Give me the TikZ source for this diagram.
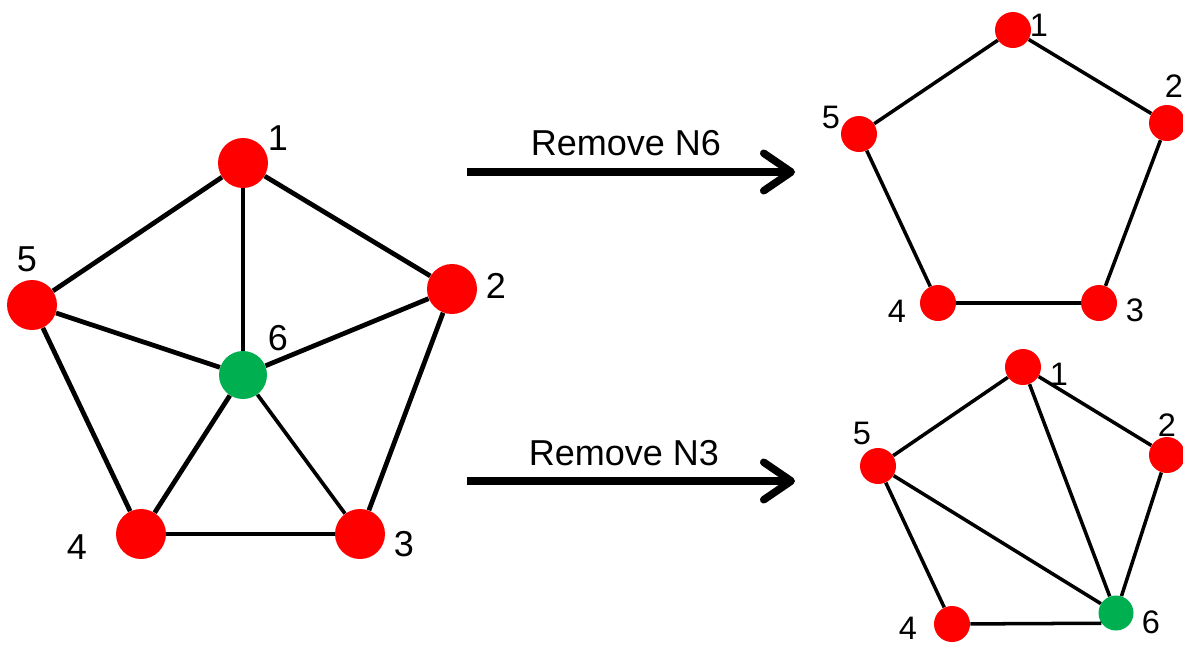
\documentclass[tikz,border=0pt]{standalone}
\usepackage{fontspec}
\setmainfont{Liberation Sans}
\usetikzlibrary{positioning,arrows.meta}

\definecolor{dotred}{RGB}{255,0,0}
\definecolor{dotgreen}{RGB}{0,176,80}

\tikzset{
  bigred/.style={circle,fill=dotred,minimum size=1cm,inner sep=0pt},
  biggreen/.style={circle,fill=dotgreen,minimum size=0.96cm,inner sep=0pt},
  smallred/.style={circle,fill=dotred,minimum size=0.72cm,inner sep=0pt},
  smallgreen/.style={circle,fill=dotgreen,minimum size=0.7cm,inner sep=0pt},
  biglbl/.style={font=\fontsize{20.5}{24}\selectfont,inner sep=0pt},
  smalllbl/.style={font=\fontsize{18.5}{22}\selectfont,inner sep=0pt},
  bigedge/.style={line width=2.7pt},
  thinedge/.style={line width=2.1pt},
  smalledge/.style={line width=2pt},
  bigarrow/.style={line width=4.3pt,-{Straight Barb[length=0.55cm,width=0.75cm,line cap=round,line join=round]}}
}

\begin{document}
\begin{tikzpicture}[x=0.02cm,y=-0.02cm]

  \useasboundingbox (0,0) rectangle (1183,647);

  % starting graph
  \node[bigred] (a1) at (243,163) {};
  \node[bigred] (a2) at (452,289) {};
  \node[bigred] (a3) at (360,534) {};
  \node[bigred] (a4) at (141,534) {};
  \node[bigred] (a5) at (32,305) {};
  \node[biggreen] (a6) at (243,375) {};

  \path[bigedge] (a1) edge (a2);
  \path[bigedge] (a1) edge (a5);
  \path[bigedge] (a1) edge (a6);
  \path[bigedge] (a2) edge (a3);
  \path[bigedge] (a2) edge (a6);
  \path[bigedge] (a3) edge (a4);
  \path[bigedge] (a4) edge (a5);
  \path[bigedge] (a5) edge (a6);
  \path[bigedge] (a6) edge (a4);
  \path[thinedge] (a6) edge (a3);

  \node[biglbl] (la1) at (278,138) {1};
  \node[biglbl] (la2) at (496,286) {2};
  \node[biglbl] (la3) at (404,544) {3};
  \node[biglbl] (la4) at (77,547) {4};
  \node[biglbl] (la5) at (27,259) {5};
  \node[biglbl] (la6) at (278,338) {6};

  % the two steps
  \coordinate (s1) at (467,172);
  \coordinate (t1) at (795,172);
  \coordinate (s2) at (467,481);
  \coordinate (t2) at (795,481);
  \draw[bigarrow] (s1) -- (t1);
  \draw[bigarrow] (s2) -- (t2);
  \node[biglbl] (r1) at (626,143) {Remove N6};
  \node[biglbl] (r2) at (624,453) {Remove N3};

  % without node 6
  \node[smallred] (b1) at (1013,30) {};
  \node[smallred] (b2) at (1167,123) {};
  \node[smallred] (b3) at (1099,303) {};
  \node[smallred] (b4) at (938,303) {};
  \node[smallred] (b5) at (859,134) {};

  \path[smalledge] (b1) edge (b2);
  \path[smalledge] (b2) edge (b3);
  \path[smalledge] (b3) edge (b4);
  \path[smalledge] (b4) edge (b5);
  \path[smalledge] (b5) edge (b1);

  \node[smalllbl] (lb1) at (1039,25) {1};
  \node[smalllbl] (lb2) at (1174,86) {2};
  \node[smalllbl] (lb3) at (1135,310) {3};
  \node[smalllbl] (lb4) at (897,311) {4};
  \node[smalllbl] (lb5) at (831,117) {5};

  % without node 3
  \node[smallred] (c1) at (1023,367) {};
  \node[smallred] (c2) at (1167,455) {};
  \node[smallred] (c4) at (952,624) {};
  \node[smallred] (c5) at (878,466) {};
  \node[smallgreen] (c6) at (1116,613) {};

  \path[smalledge] (c1) edge (c2);
  \path[smalledge] (c1) edge (c5);
  \path[smalledge] (c1) edge (c6);
  \path[smalledge] (c2) edge (c6);
  \path[smalledge] (c6.215) edge (c4);
  \path[smalledge] (c4) edge (c5);
  \path[smalledge] (c5) edge (c6);

  \node[smalllbl] (lc1) at (1059,374) {1};
  \node[smalllbl] (lc2) at (1167,425) {2};
  \node[smalllbl] (lc4) at (908,628) {4};
  \node[smalllbl] (lc5) at (862,433) {5};
  \node[smalllbl] (lc6) at (1151,622) {6};

\end{tikzpicture}
\end{document}
